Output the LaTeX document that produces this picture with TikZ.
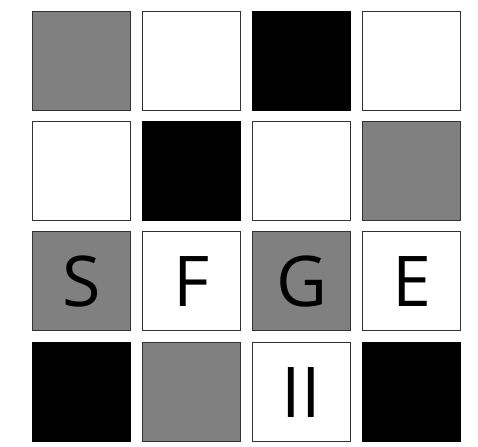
\documentclass[tikz,border=0pt]{standalone}
\usepackage{fontspec}
\setmainfont{Open Sans}
\begin{document}
\begin{tikzpicture}[x=1pt,y=1pt,
  cell/.style={draw=black!80, line width=1.3pt, minimum size=98.5pt, inner sep=0pt, anchor=center},
  gcell/.style={cell, fill=black!50},
  wcell/.style={cell, fill=white},
  bcell/.style={cell, fill=black, draw=black},
  lbl/.style={anchor=base, inner sep=0pt, font=\fontsize{70}{70}\selectfont}]
\useasboundingbox (0,0) rectangle (478,446);
% row 1 (y center 61)
\node[gcell] (c11) at (81.5,385) {};
\node[wcell] (c12) at (191.5,385) {};
\node[bcell] (c13) at (301.5,385) {};
\node[wcell] (c14) at (411.5,385) {};
% row 2 (y center 171)
\node[wcell] (c21) at (81.5,275) {};
\node[bcell] (c22) at (191.5,275) {};
\node[wcell] (c23) at (301.5,275) {};
\node[gcell] (c24) at (411.5,275) {};
% row 3 (y center 281)
\node[gcell] (c31) at (81.5,165) {};
\node[wcell] (c32) at (191.5,165) {};
\node[gcell] (c33) at (301.5,165) {};
\node[wcell] (c34) at (411.5,165) {};
% row 4 (y center 392)
\node[bcell] (c41) at (81.5,54) {};
\node[gcell] (c42) at (191.5,54) {};
\node[wcell] (c43) at (301.5,54) {};
\node[bcell] (c44) at (411.5,54) {};
% labels
\node[lbl] (tS) at ([yshift=-25.5pt]c31.center) {S};
\node[lbl] (tF) at ([yshift=-25.5pt]c32.center) {F};
\node[lbl] (tG) at ([yshift=-25.5pt]c33.center) {G};
\node[lbl] (tE) at ([yshift=-25.5pt]c34.center) {E};
\node[lbl] (tII) at ([yshift=-25.5pt]c43.center) {II};
\end{tikzpicture}
\end{document}
